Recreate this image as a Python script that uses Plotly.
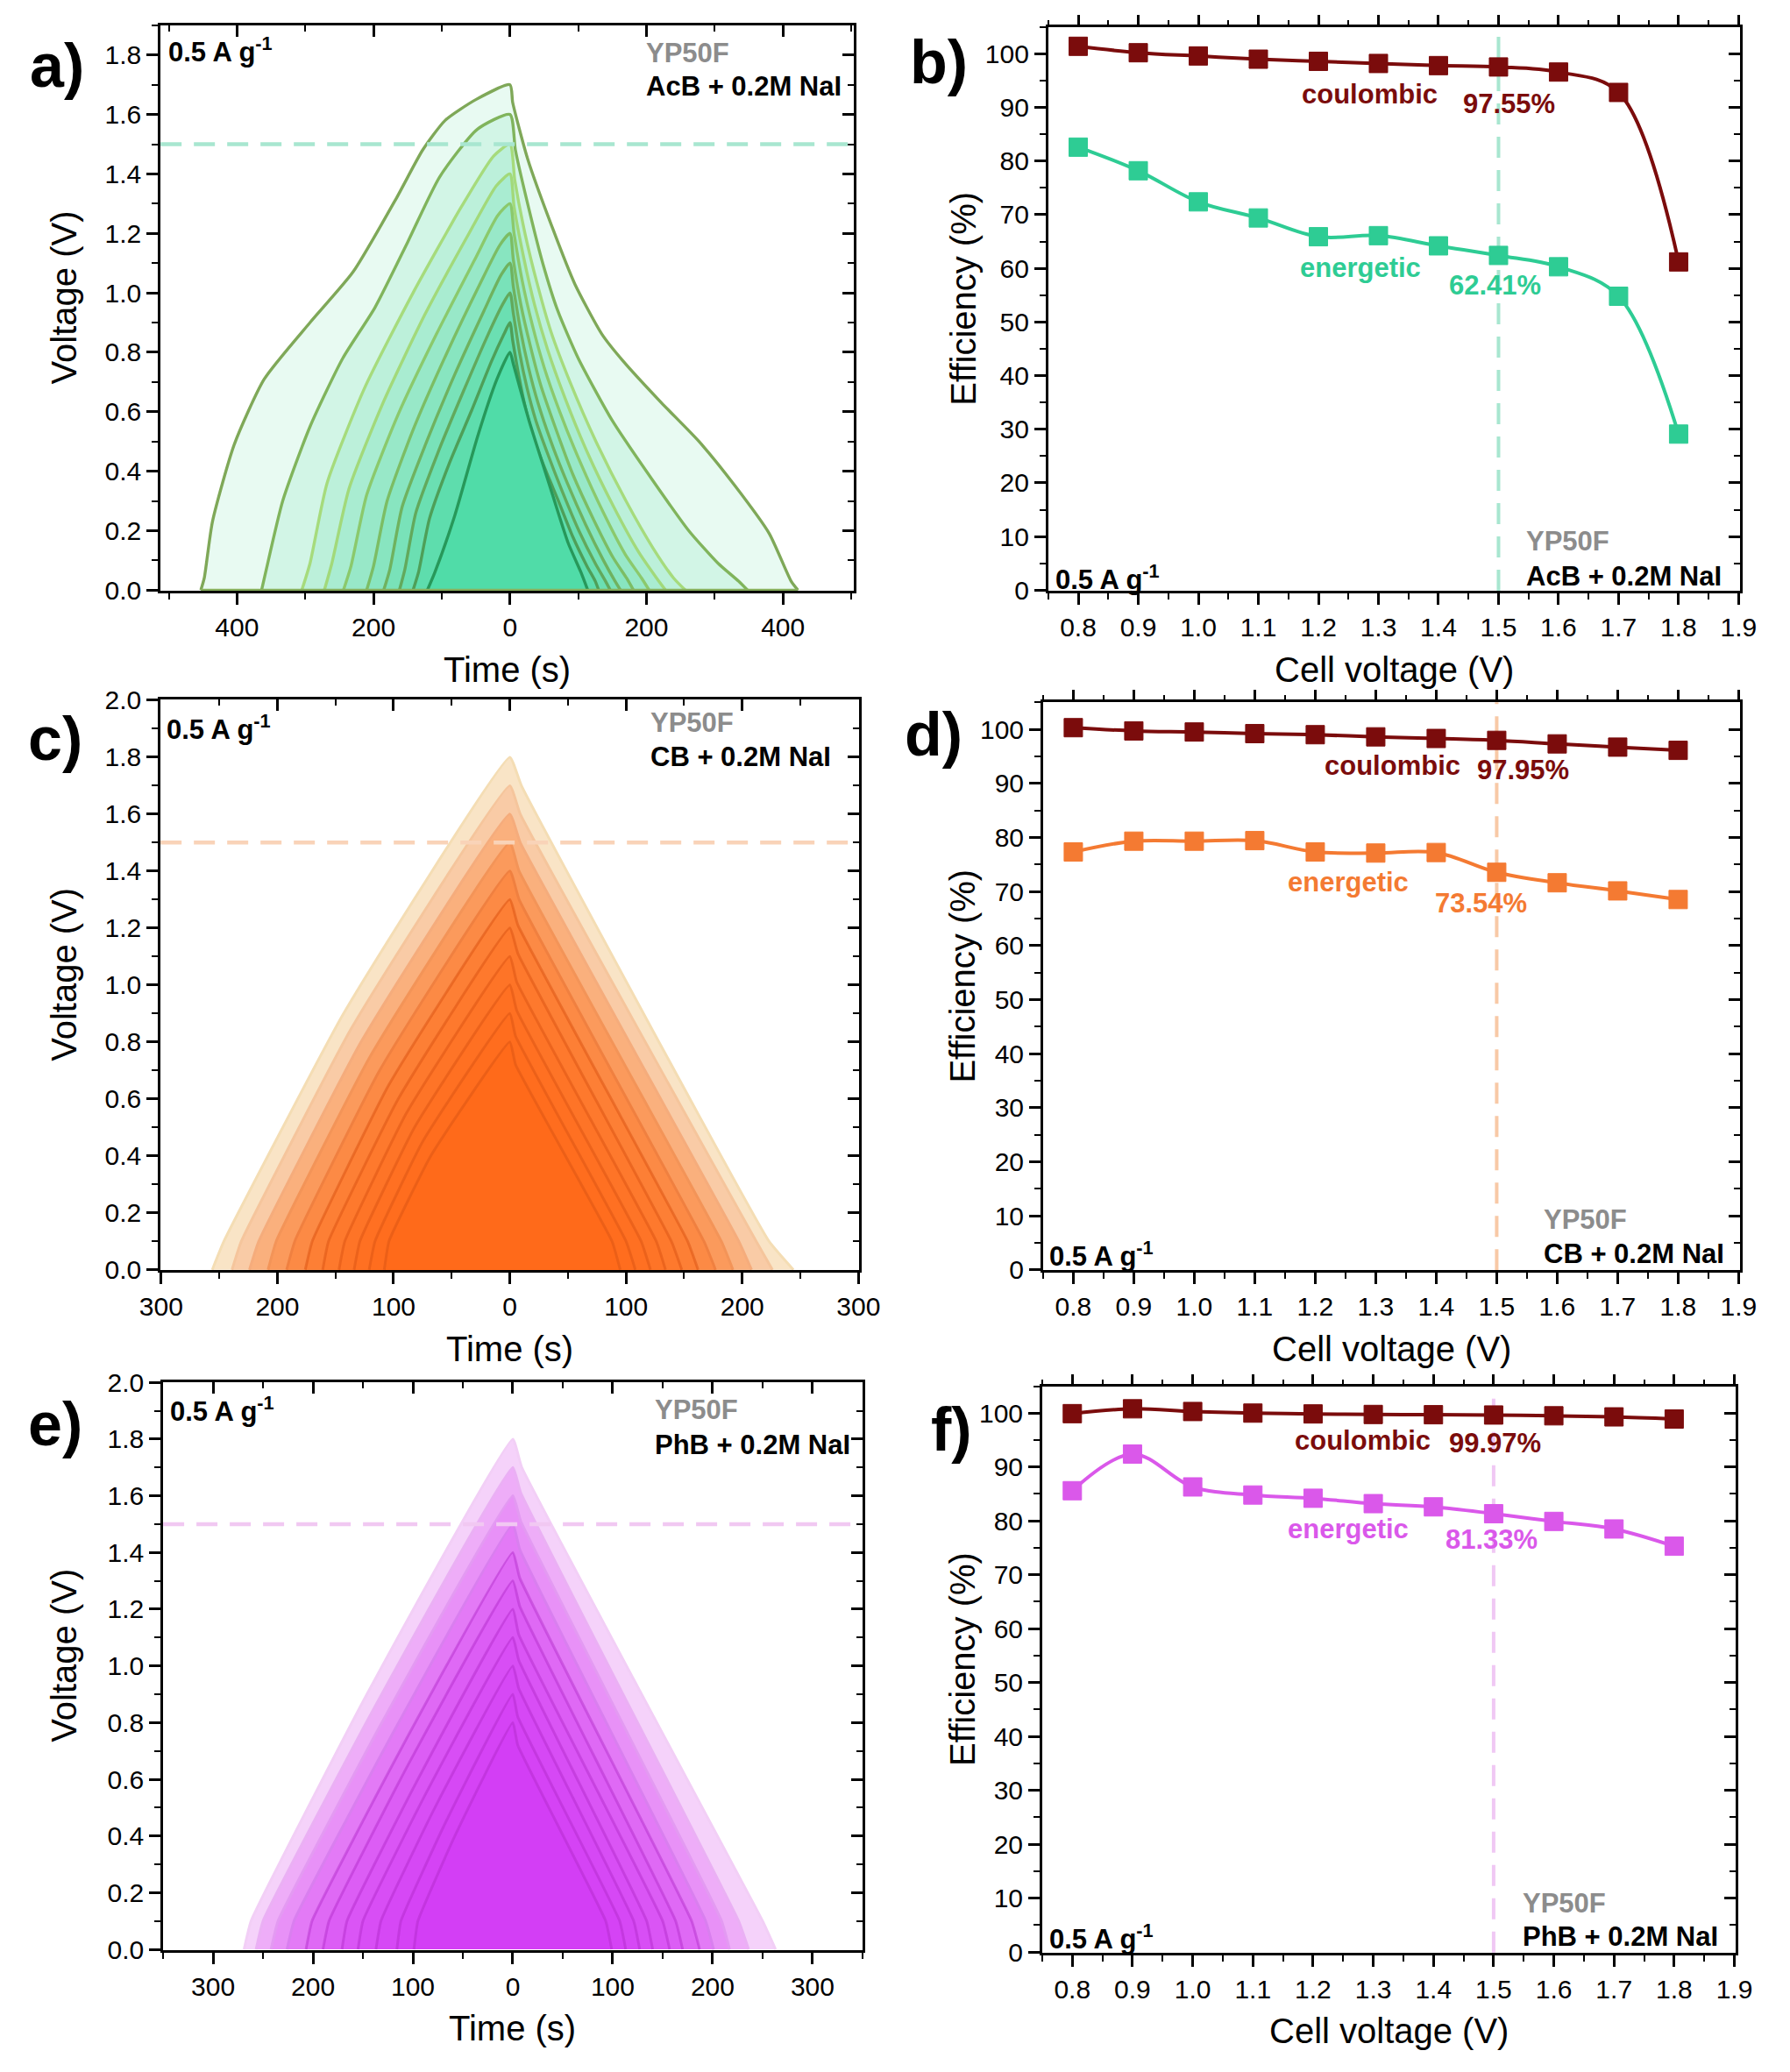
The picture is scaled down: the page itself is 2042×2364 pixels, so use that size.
import plotly.graph_objects as go

W, H = 2042, 2364
FONT = "Liberation Sans, Arial, sans-serif"

# ---------------- panel a: GCD, AcB + 0.2M NaI (cut-off 0.8 ... 1.7 V)
a_vmax = [0.8, 0.9, 1.0, 1.1, 1.2, 1.3, 1.4, 1.5, 1.6, 1.7]
a_charge_t = [
    [-121, -110, -81, -47, -19, 0],
    [-142, -134, -118, -90, -57, -27, -9, 0],
    [-162, -154, -138, -106, -68, -32, -11, 0],
    [-185, -176, -158, -122, -80, -38, -13, 0],
    [-210, -200, -180, -140, -92, -44, -15, 0],
    [-244, -233, -210, -164, -108, -52, -18, 0],
    [-272, -261, -236, -186, -124, -60, -20, 0],
    [-305, -293, -268, -213, -142, -71, -24, 0],
    [-364, -358, -333, -293, -245, -198, -150, -103, -48, 0],
    [-453, -448, -436, -404, -360, -293, -230, -166, -128, -95, -50, 0],
]
a_charge_v = [
    [0, 0.06, 0.25, 0.52, 0.71, 0.80],
    [0, 0.06, 0.24, 0.42, 0.60, 0.77, 0.86, 0.90],
    [0, 0.07, 0.26, 0.46, 0.67, 0.86, 0.96, 1.00],
    [0, 0.07, 0.28, 0.50, 0.73, 0.94, 1.06, 1.10],
    [0, 0.08, 0.30, 0.55, 0.80, 1.03, 1.16, 1.20],
    [0, 0.08, 0.32, 0.59, 0.86, 1.11, 1.26, 1.30],
    [0, 0.09, 0.34, 0.63, 0.93, 1.20, 1.36, 1.40],
    [0, 0.09, 0.36, 0.68, 1.00, 1.29, 1.46, 1.50],
    [0, 0.06, 0.30, 0.55, 0.78, 0.95, 1.17, 1.39, 1.55, 1.60],
    [0, 0.04, 0.23, 0.49, 0.71, 0.90, 1.07, 1.32, 1.48, 1.58, 1.65, 1.70],
]
a_dis_t = [
    [0, 5, 28, 57, 85, 104, 114],
    [0, 4, 13, 23, 35, 51, 71, 92, 113, 125, 130],
    [0, 5, 14, 25, 38, 55, 77, 101, 125, 140, 147],
    [0, 5, 15, 27, 41, 60, 84, 111, 137, 154, 162],
    [0, 5, 16, 30, 45, 66, 92, 122, 151, 171, 181],
    [0, 6, 18, 33, 50, 73, 103, 137, 169, 193, 204],
    [0, 6, 20, 36, 55, 80, 114, 152, 188, 215, 228],
    [0, 7, 22, 40, 60, 88, 126, 170, 210, 240, 257],
    [0, 8, 28, 48, 70, 100, 150, 212, 262, 305, 335, 348],
    [0, 4, 26, 62, 95, 135, 166, 222, 277, 330, 380, 412, 422],
]
a_dis_v = [
    [0.80, 0.76, 0.57, 0.36, 0.16, 0.06, 0],
    [0.90, 0.84, 0.72, 0.61, 0.51, 0.41, 0.30, 0.18, 0.08, 0.03, 0],
    [1.00, 0.93, 0.80, 0.68, 0.57, 0.46, 0.33, 0.20, 0.09, 0.03, 0],
    [1.10, 1.02, 0.88, 0.75, 0.63, 0.50, 0.36, 0.22, 0.10, 0.03, 0],
    [1.20, 1.11, 0.96, 0.82, 0.69, 0.55, 0.39, 0.24, 0.11, 0.04, 0],
    [1.30, 1.20, 1.04, 0.89, 0.75, 0.60, 0.43, 0.26, 0.12, 0.04, 0],
    [1.40, 1.29, 1.12, 0.96, 0.81, 0.65, 0.46, 0.28, 0.13, 0.04, 0],
    [1.50, 1.38, 1.20, 1.03, 0.87, 0.70, 0.50, 0.30, 0.14, 0.04, 0],
    [1.60, 1.48, 1.28, 1.10, 0.94, 0.78, 0.57, 0.36, 0.20, 0.09, 0.03, 0],
    [1.70, 1.64, 1.45, 1.22, 1.03, 0.86, 0.77, 0.63, 0.50, 0.35, 0.19, 0.03, 0],
]
a_line = ['#27985A', '#4E9F58', '#62A95C', '#6FB25F', '#7CBD64', '#8BC96C',
          '#A2D97A', '#A6DB7C', '#80B45C', '#7FA858']
a_fill = ['#50DCA8', '#5EDDAD', '#6BDFB2', '#79E2B9', '#88E5C0', '#98E8C8',
          '#A9ECD1', '#BCF0DA', '#D2F5E6', '#E8FAF2']

# ---------------- panels c / e: GCD, CB and PhB (cut-off 0.8 ... 1.8 V)
cell_v = [0.8, 0.9, 1.0, 1.1, 1.2, 1.3, 1.4, 1.5, 1.6, 1.7, 1.8]
half_v = [0.40, 0.45, 0.50, 0.55, 0.60, 0.65, 0.70, 0.75, 0.80, 0.85, 0.90]
FOOT_V = 0.1

c_start = [-108, -121, -134, -147, -161, -176, -192, -208, -224, -239, -256]
c_foot = [-104, -116, -129, -142, -156, -170, -185, -201, -216, -231, -246]
c_mid = [-68, -75, -82, -89, -96, -104, -112, -120, -128, -136, -143]
c_knee_t = [5, 5, 6, 6, 7, 7, 8, 8, 9, 9, 10]
c_knee_v = [0.72, 0.82, 0.91, 1.01, 1.11, 1.21, 1.30, 1.40, 1.50, 1.60, 1.70]
c_tail = [88, 100, 113, 126, 139, 153, 167, 182, 197, 212, 223]
c_end = [95, 108, 121, 134, 148, 162, 177, 192, 208, 226, 244]
c_fill = ['#FF6A1A', '#FF6D1E', '#FF7022', '#FE7427', '#FE792D', '#FD7F35',
          '#FC8A45', '#FB9A5C', '#FAB07D', '#F9CBA6', '#F9E4C6']
c_line = ['rgba(220,85,20,0.55)'] * 6 + ['#F08040', '#F39458', '#F5AC7C', '#F5C59C', '#F4DDB4']

e_start = [-99, -116, -137, -155, -171, -190, -207, -226, -242, -257, -269]
e_foot = [-95, -112, -132, -150, -166, -184, -201, -219, -235, -250, -262]
e_mid = [-58, -67, -78, -87, -95, -105, -113, -122, -131, -139, -146]
e_knee_t = [5, 5, 6, 6, 6, 7, 7, 7, 8, 8, 9]
e_knee_v = [0.72, 0.82, 0.92, 1.02, 1.11, 1.21, 1.31, 1.41, 1.51, 1.61, 1.70]
e_tail = [93, 107, 121, 134, 150, 163, 179, 193, 209, 226, 250]
e_end = [99, 113, 127, 140, 157, 170, 187, 201, 217, 236, 263]
e_fill = ['#D33EF5', '#D543F5', '#D648F5', '#D84EF5', '#DA55F5', '#DC5DF5',
          '#DF69F5', '#E37AF6', '#E891F7', '#EEADF8', '#F5D2FA']
e_line = ['rgba(175,40,200,0.45)'] * 7 + ['#D97FEF', '#E39AF2', '#EAB0F4', '#F2CFF6']

# ---------------- efficiencies (b, d, f)
b_coul = [101.4, 100.2, 99.6, 99.0, 98.6, 98.2, 97.8, 97.55, 96.6, 92.8, 61.2]
b_energ = [82.6, 78.2, 72.4, 69.4, 65.9, 66.1, 64.2, 62.41, 60.3, 54.8, 29.1]
d_coul = [100.3, 99.7, 99.5, 99.2, 99.0, 98.6, 98.3, 97.95, 97.3, 96.7, 96.1]
d_energ = [77.3, 79.3, 79.3, 79.4, 77.3, 77.1, 77.2, 73.54, 71.6, 70.1, 68.5]
f_coul = [99.9, 100.8, 100.3, 100.0, 99.85, 99.75, 99.7, 99.65, 99.5, 99.3, 98.9]
f_energ = [85.6, 92.4, 86.3, 84.8, 84.2, 83.2, 82.6, 81.33, 79.9, 78.5, 75.3]

COUL = '#7B0C0C'
GREEN, ORANGE, MAGENTA = '#2ECC94', '#F47A32', '#DA58EA'

# plot boxes in pixels: left, right, top, bottom
boxes = {1: (163, 973, 13, 667), 2: (1200, 2008, 15, 667),
         3: (163, 979, 793, 1453), 4: (1194, 2008, 796, 1453),
         5: (166, 983, 1582, 2239), 6: (1193, 2003, 1587, 2242)}


def ref(letter, n):
    return letter if n == 1 else f'{letter}{n}'


def px(x, y):
    return x / W, 1 - y / H


fig = go.Figure()

# panel a curves, outer first
for i in reversed(range(len(a_vmax))):
    fig.add_trace(go.Scatter(
        x=a_charge_t[i] + a_dis_t[i][1:], y=a_charge_v[i] + a_dis_v[i][1:],
        mode='lines', fill='toself', fillcolor=a_fill[i],
        line=dict(color=a_line[i], width=3.4, shape='spline', smoothing=0.6),
        xaxis='x', yaxis='y', hoverinfo='skip', showlegend=False))


def gcd(n, start, foot, mid, knee_t, knee_v, tail, end, fills, lines):
    for i in reversed(range(len(cell_v))):
        fig.add_trace(go.Scatter(
            x=[start[i], foot[i], mid[i], 0, knee_t[i], tail[i], end[i]],
            y=[0, FOOT_V, half_v[i], cell_v[i], knee_v[i], FOOT_V, 0],
            mode='lines', fill='toself', fillcolor=fills[i],
            line=dict(color=lines[i], width=3, shape='spline', smoothing=0.35),
            xaxis=ref('x', n), yaxis=ref('y', n), hoverinfo='skip', showlegend=False))


gcd(3, c_start, c_foot, c_mid, c_knee_t, c_knee_v, c_tail, c_end, c_fill, c_line)
gcd(5, e_start, e_foot, e_mid, e_knee_t, e_knee_v, e_tail, e_end, e_fill, e_line)


def eff(n, ys, color):
    fig.add_trace(go.Scatter(
        x=cell_v, y=ys, mode='lines+markers',
        line=dict(color=color, width=4, shape='spline', smoothing=1.0),
        marker=dict(symbol='square', size=21, color=color, line=dict(width=1, color=color)),
        xaxis=ref('x', n), yaxis=ref('y', n), hoverinfo='skip', showlegend=False))


eff(2, b_energ, GREEN)
eff(2, b_coul, COUL)
eff(4, d_energ, ORANGE)
eff(4, d_coul, COUL)
eff(6, f_energ, MAGENTA)
eff(6, f_coul, COUL)

# ---------------- axes
tick_font = dict(family=FONT, size=30, color='black')
layout_axes = {}


def axes(n, xr, xt, xtt, xminor, yr, yt, ytt, yminor, top_ticks):
    l, r, t, b = boxes[n]
    xdom = [l / W, r / W]
    ydom = [1 - b / H, 1 - t / H]
    base = dict(showgrid=False, zeroline=False, ticks='outside', ticklen=13, tickwidth=2.5,
                tickcolor='black', tickfont=tick_font, showline=True, linecolor='black',
                linewidth=2.8, mirror=True)
    layout_axes[ref('xaxis', n)] = dict(
        base, domain=xdom, range=xr, tickmode='array', tickvals=xt, ticktext=xtt,
        anchor=ref('y', n),
        minor=dict(ticks='outside', ticklen=7, tickwidth=2, tickcolor='black',
                   tickmode='linear', tick0=0, dtick=xminor))
    layout_axes[ref('yaxis', n)] = dict(
        base, domain=ydom, range=yr, tickmode='array', tickvals=yt, ticktext=ytt,
        anchor=ref('x', n),
        minor=dict(ticks='outside', ticklen=7, tickwidth=2, tickcolor='black',
                   tickmode='linear', tick0=0, dtick=yminor))
    # top and right tick rows
    m = n + 6
    plain = dict(showgrid=False, zeroline=False, showline=False, showticklabels=False,
                 ticklen=13, tickwidth=2.5, tickcolor='black')
    layout_axes[f'xaxis{m}'] = dict(
        plain, overlaying=ref('x', n), side='top', anchor=ref('y', n), range=xr,
        tickmode='array', tickvals=xt, ticks=top_ticks,
        minor=dict(ticks=top_ticks, ticklen=7, tickwidth=2, tickcolor='black',
                   tickmode='linear', tick0=0, dtick=xminor))
    layout_axes[f'yaxis{m}'] = dict(
        plain, overlaying=ref('y', n), side='right', anchor=ref('x', n), range=yr,
        tickmode='array', tickvals=yt, ticks='inside',
        minor=dict(ticks='inside', ticklen=7, tickwidth=2, tickcolor='black',
                   tickmode='linear', tick0=0, dtick=yminor))
    fig.add_trace(go.Scatter(x=[None], y=[None], xaxis=f'x{m}', yaxis=f'y{m}',
                             showlegend=False, hoverinfo='skip'))


volt_ticks = [0, 0.2, 0.4, 0.6, 0.8, 1.0, 1.2, 1.4, 1.6, 1.8]
volt_ticks2 = volt_ticks + [2.0]
eff_xt = [0.8, 0.9, 1.0, 1.1, 1.2, 1.3, 1.4, 1.5, 1.6, 1.7, 1.8, 1.9]
eff_yt = [0, 10, 20, 30, 40, 50, 60, 70, 80, 90, 100]
a_xt = [-400, -200, 0, 200, 400]
ce_xt = [-300, -200, -100, 0, 100, 200, 300]

axes(1, [-512, 504], a_xt, [str(abs(v)) for v in a_xt], 100,
     [-0.002, 1.9], volt_ticks, [f'{v:.1f}' for v in volt_ticks], 0.1, 'inside')
axes(3, [-300.5, 300.5], ce_xt, [str(abs(v)) for v in ce_xt], 50,
     [-0.002, 2.002], volt_ticks2, [f'{v:.1f}' for v in volt_ticks2], 0.1, 'inside')
axes(5, [-350, 350], ce_xt, [str(abs(v)) for v in ce_xt], 50,
     [-0.002, 2.002], volt_ticks2, [f'{v:.1f}' for v in volt_ticks2], 0.1, 'inside')
for n in (2, 4, 6):
    axes(n, [0.75, 1.902], eff_xt, [f'{v:.1f}' for v in eff_xt], 0.05,
         [-0.1, 105], eff_yt, [str(v) for v in eff_yt], 5, 'outside')

# ---------------- dashed guides at 1.5 V
shapes = []
for n, col in ((1, '#A8E6D0'), (3, '#F9D3B8'), (5, '#F1C8F2')):
    shapes.append(dict(type='line', xref=ref('x', n) + ' domain', yref=ref('y', n),
                       x0=0, x1=1, y0=1.5, y1=1.5, layer='above',
                       line=dict(color=col, width=4.5, dash='24px,14px')))
for n, col in ((2, '#A8E6D0'), (4, '#F8C9A6'), (6, '#F0C8F4')):
    shapes.append(dict(type='line', xref=ref('x', n), yref=ref('y', n) + ' domain',
                       x0=1.5, x1=1.5, y0=0, y1=1, layer='below',
                       line=dict(color=col, width=4, dash='24px,14px')))
# baseline stroke of panel a
shapes.append(dict(type='line', xref='x', yref='y', x0=a_charge_t[-1][0], x1=a_dis_t[-1][-1],
                   y0=0, y1=0, layer='above', line=dict(color='#86AE5C', width=3)))

# ---------------- texts
ann = []


def text(s, x, y, size=31, color='black', xanchor='center', yanchor='middle', angle=0, bold=True):
    xx, yy = px(x, y)
    ann.append(dict(text=f'<b>{s}</b>' if bold else s, x=xx, y=yy, xref='paper', yref='paper',
                    showarrow=False, xanchor=xanchor, yanchor=yanchor, textangle=angle,
                    font=dict(family=FONT, size=size, color=color)))


def dtext(n, s, x, y, color):
    ann.append(dict(text=f'<b>{s}</b>', x=x, y=y, xref=ref('x', n), yref=ref('y', n),
                    showarrow=False, font=dict(family=FONT, size=31, color=color)))


for lab, x, y in (('a)', 42, 60), ('b)', 1072, 56), ('c)', 40, 838),
                  ('d)', 1066, 833), ('e)', 40, 1631), ('f)', 1087, 1637)):
    text(lab, x, y, size=70)

# axis titles
for n, xt, yt in ((1, 'Time (s)', 'Voltage (V)'), (3, 'Time (s)', 'Voltage (V)'),
                  (5, 'Time (s)', 'Voltage (V)'), (2, 'Cell voltage (V)', 'Efficiency (%)'),
                  (4, 'Cell voltage (V)', 'Efficiency (%)'), (6, 'Cell voltage (V)', 'Efficiency (%)')):
    l, r, t, b = boxes[n]
    text(xt, (l + r) / 2, b + 91, size=40, bold=False)
    left_x = 50 if n % 2 else 1100
    text(yt, left_x, (t + b) / 2 - 12, size=40, angle=-90, bold=False)

# in-panel labels
GREY = '#8C8C8C'
for x, y in ((170, 42), (1206, 652), (168, 825), (1199, 1434), (172, 1614), (1199, 2224)):
    text('0.5 A g<sup>-1</sup>', x, y, xanchor='left')
for x, y1, y2, s in ((728, 45, 84, 'AcB + 0.2M NaI'), (1756, 610, 650, 'AcB + 0.2M NaI'),
                     (733, 820, 859, 'CB + 0.2M NaI'), (1777, 1394, 1434, 'CB + 0.2M NaI'),
                     (738, 1614, 1655, 'PhB + 0.2M NaI'), (1752, 2185, 2224, 'PhB + 0.2M NaI')):
    text('YP50F', x, y1, color=GREY, xanchor='left')
    text(s, x, y2, xanchor='left')

dtext(2, 'coulombic', 1.286, 92.4, COUL)
dtext(2, '97.55%', 1.518, 90.6, COUL)
dtext(2, 'energetic', 1.27, 60.1, GREEN)
dtext(2, '62.41%', 1.494, 56.9, GREEN)
dtext(4, 'coulombic', 1.328, 93.3, COUL)
dtext(4, '97.95%', 1.544, 92.5, COUL)
dtext(4, 'energetic', 1.255, 71.7, ORANGE)
dtext(4, '73.54%', 1.474, 67.8, ORANGE)
dtext(6, 'coulombic', 1.282, 94.9, COUL)
dtext(6, '99.97%', 1.502, 94.5, COUL)
dtext(6, 'energetic', 1.259, 78.5, MAGENTA)
dtext(6, '81.33%', 1.497, 76.6, MAGENTA)

fig.update_layout(
    width=W, height=H, margin=dict(l=0, r=0, t=0, b=0),
    paper_bgcolor='white', plot_bgcolor='white', showlegend=False,
    font=dict(family=FONT, color='black'),
    shapes=shapes, annotations=ann, **layout_axes)

fig.write_html("out.html", config={'displayModeBar': False},
               post_script="document.body.style.margin='0px';")
